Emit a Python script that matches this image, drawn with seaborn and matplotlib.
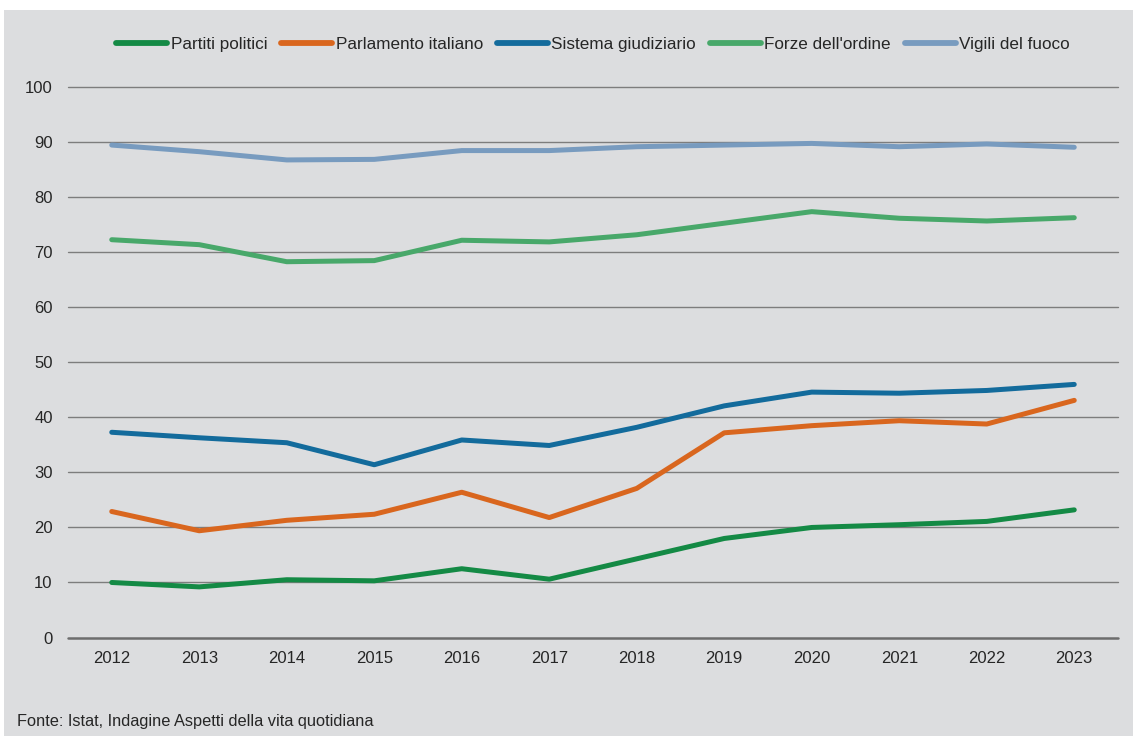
import matplotlib
matplotlib.use("Agg")
import matplotlib.pyplot as plt
import seaborn as sns
import pandas as pd
from matplotlib.patches import Rectangle

# Fiducia nelle istituzioni (% di persone con voto sufficiente), 2012-2023
years = [2012, 2013, 2014, 2015, 2016, 2017, 2018, 2019, 2020, 2021, 2022, 2023]
partiti_politici = [10.0, 9.2, 10.5, 10.3, 12.5, 10.6, 14.3, 18.0, 20.0, 20.5, 21.1, 23.2]
parlamento_italiano = [22.9, 19.4, 21.3, 22.4, 26.4, 21.8, 27.1, 37.2, 38.5, 39.4, 38.8, 43.1]
sistema_giudiziario = [37.3, 36.3, 35.4, 31.4, 35.9, 34.9, 38.2, 42.1, 44.6, 44.4, 44.9, 46.0]
forze_ordine = [72.3, 71.4, 68.3, 68.5, 72.2, 71.9, 73.2, 75.3, 77.4, 76.2, 75.7, 76.3]
vigili_fuoco = [89.5, 88.3, 86.8, 86.9, 88.5, 88.5, 89.2, 89.5, 89.8, 89.2, 89.7, 89.1]

series_names = ["Partiti politici", "Parlamento italiano", "Sistema giudiziario",
                "Forze dell'ordine", "Vigili del fuoco"]
series_values = [partiti_politici, parlamento_italiano, sistema_giudiziario,
                 forze_ordine, vigili_fuoco]
series_colors = ["#148a45", "#d9661e", "#136b9c", "#48a86a", "#789bbf"]

y_ticks = [0, 10, 20, 30, 40, 50, 60, 70, 80, 90, 100]
source_note = "Fonte: Istat, Indagine Aspetti della vita quotidiana"

df = pd.DataFrame(
    [(y, v, name) for name, vals in zip(series_names, series_values)
     for y, v in zip(years, vals)],
    columns=["anno", "valore", "serie"],
)

sns.set_theme(style="white")
plt.rcParams["font.family"] = ["Liberation Sans", "DejaVu Sans"]

bg = "#dcdddf"
text_color = "#262626"

fig = plt.figure(figsize=(11.33, 7.36), dpi=100)
fig.patch.set_facecolor("white")
# grey panel behind the whole chart
panel = Rectangle((4 / 1133, 0), 1 - 4 / 1133, 1 - 10 / 736,
                  transform=fig.transFigure, facecolor=bg,
                  edgecolor="none", zorder=-10)
fig.add_artist(panel)

ax = fig.add_axes([68 / 1133, 1 - 637.5 / 736, 1050 / 1133, 550.2 / 736])
ax.set_facecolor(bg)

for yv in y_ticks[1:]:
    ax.axhline(yv, color="#7d7d7d", lw=1.0, zorder=1, clip_on=False)
ax.axhline(0, color="#6d6d6d", lw=1.8, zorder=1, clip_on=False)

sns.lineplot(data=df, x="anno", y="valore", hue="serie", hue_order=series_names,
             palette=series_colors, linewidth=3.6, ax=ax, zorder=3,
             solid_capstyle="round", solid_joinstyle="round")

ax.set_xlim(years[0] - 0.5, years[-1] + 0.5)
ax.set_ylim(0, 100)
ax.set_xticks(years)
ax.set_xticklabels([str(y) for y in years])
ax.set_yticks(y_ticks)
ax.set_yticklabels([str(t) for t in y_ticks])
ax.tick_params(axis="x", length=0, pad=10, labelsize=12, labelcolor=text_color)
ax.tick_params(axis="y", length=0, pad=11, labelsize=12, labelcolor=text_color)
ax.set_xlabel("")
ax.set_ylabel("")
for s in ax.spines.values():
    s.set_visible(False)

handles, labels = ax.get_legend_handles_labels()
for h in handles:
    h.set_linewidth(4.2)
    h.set_solid_capstyle("round")
leg = ax.legend(handles, labels, loc="center", bbox_to_anchor=(0.5, 1.077),
                ncol=5, frameon=False, fontsize=12.3, handlelength=3.0,
                handletextpad=0.2, columnspacing=0.8, borderaxespad=0)
for t in leg.get_texts():
    t.set_color(text_color)

fig.text(17 / 1133, 1 - 721.5 / 736, source_note, ha="left", va="center",
         fontsize=11.8, color=text_color)

fig.savefig("out.png", dpi=100, facecolor=fig.get_facecolor())
